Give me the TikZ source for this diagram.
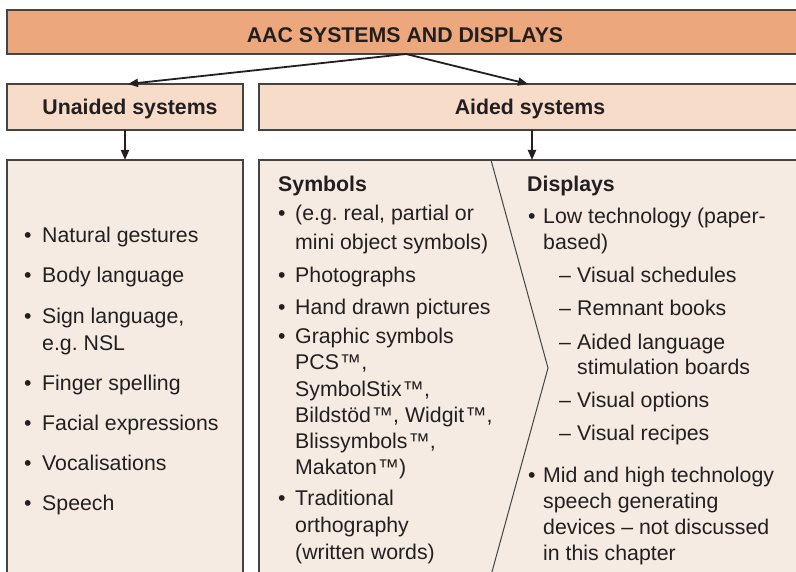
\documentclass[tikz,border=0pt]{standalone}
\usepackage{fontspec}
\setmainfont{Liberation Sans}
\usetikzlibrary{arrows.meta}
\definecolor{topc}{HTML}{ECA77C}
\definecolor{midc}{HTML}{F7DCCA}
\definecolor{lowc}{HTML}{F5EBE2}
\definecolor{edgec}{HTML}{444444}
\definecolor{txtc}{HTML}{231F20}
\tikzset{
  box/.style={draw=edgec, line width=1.3pt},
  conn/.style={draw=txtc, line width=1.8pt, -{Triangle[length=10pt,width=8pt]}},
  ltxt/.style={anchor=mid west, inner sep=0pt, yshift=-4.5pt, font=\fontsize{21.3}{25}\selectfont\frenchspacing, text=txtc},
  btxt/.style={ltxt, font=\fontsize{21.3}{25}\selectfont\bfseries},
  ctxt/.style={inner sep=0pt, yshift=-2pt, font=\fontsize{21.3}{25}\selectfont\bfseries, text=txtc},
}
\newcommand{\tmk}{\kern1pt™}
\begin{document}
\begin{tikzpicture}[x=1pt,y=-1pt]
\useasboundingbox (0,0) rectangle (796,572);
\clip (0,0) rectangle (796,572);
\fill[white] (0,0) rectangle (796,572);
% boxes
\path[box, fill=topc] (7,10) rectangle (806,54);
\path[box, fill=midc] (7,84) rectangle (243,130);
\path[box, fill=midc] (259,84) rectangle (806,130);
\path[box, fill=lowc] (7,160) rectangle (243,590);
\path[box, fill=lowc] (259,160) rectangle (806,590);
% chevron divider
\draw[edgec, line width=1pt] (491,160) -- (548,368) -- (487,590);
% titles
\node[ctxt] (title) at (405,33) {AAC SYSTEMS AND DISPLAYS};
\node[ctxt] (unaided) at (130,107) {Unaided systems};
\node[ctxt] (aided) at (530,107) {Aided systems};
\coordinate (tsrc) at (406,54);
\coordinate (uend) at (128,84);
\coordinate (aend) at (528,84);
\coordinate (usrc) at (125,130);
\coordinate (udst) at (125,160);
\coordinate (asrc) at (532,130);
\coordinate (adst) at (532,160);
\draw[conn] (tsrc) -- (uend);
\draw[conn] (tsrc) -- (aend);
\draw[conn] (usrc) -- (udst);
\draw[conn] (asrc) -- (adst);
% left column
\foreach \n/\y/\t in {a/235/Natural gestures, b/275/Body language, c/316/{Sign language,}, d/383/Finger spelling, e/423/Facial expressions, f/463/Vocalisations, g/503/Speech}{
  \node[ltxt] (lb\n) at (24,\y) {•};
  \node[ltxt] (lt\n) at (42,\y) {\t};
}
\node[ltxt] (ltc2) at (42,343) {e.g. NSL};
% symbols column
\node[btxt] (sym) at (278,184) {Symbols};
\foreach \n/\y in {a/213, b/275, c/307, d/336, e/498}{
  \node[ltxt] (sb\n) at (278,\y) {•};
}
\node[ltxt] (s1) at (295,213) {(e.g. real, partial or};
\node[ltxt] (s2) at (295,242) {mini object symbols)};
\node[ltxt] (s3) at (295,275) {Photographs};
\node[ltxt] (s4) at (295,307) {Hand drawn pictures};
\node[ltxt] (s5) at (295,336) {Graphic symbols};
\node[ltxt] (s6) at (295,362) {PCS\tmk,};
\node[ltxt] (s7) at (295,389) {SymbolStix\tmk,};
\node[ltxt] (s8) at (295,415) {Bildstöd\tmk, Widgit\tmk,};
\node[ltxt] (s9) at (295,441) {Blissymbols\tmk,};
\node[ltxt] (s10) at (295,467) {Makaton\tmk)};
\node[ltxt] (s11) at (295,498) {Traditional};
\node[ltxt] (s12) at (295,525) {orthography};
\node[ltxt] (s13) at (295,552) {(written words)};
% displays column
\node[btxt] (disp) at (527,184) {Displays};
\node[ltxt] (db1) at (528,216) {•};
\node[ltxt] (db2) at (528,475) {•};
\node[ltxt] (d1) at (543,216) {Low technology (paper-};
\node[ltxt] (d2) at (543,242) {based)};
\foreach \n/\y in {a/275, b/308, c/342, d/400, e/433}{
  \node[ltxt] (dd\n) at (559,\y) {–};
}
\node[ltxt] (d3) at (577,275) {Visual schedules};
\node[ltxt] (d4) at (577,308) {Remnant books};
\node[ltxt] (d5) at (577,342) {Aided language};
\node[ltxt] (d6) at (577,367) {stimulation boards};
\node[ltxt] (d7) at (577,400) {Visual options};
\node[ltxt] (d8) at (577,433) {Visual recipes};
\node[ltxt] (d9) at (543,475) {Mid and high technology};
\node[ltxt] (d10) at (543,501) {speech generating};
\node[ltxt] (d11) at (543,527) {devices – not discussed};
\node[ltxt] (d12) at (543,553) {in this chapter};
\end{tikzpicture}
\end{document}
